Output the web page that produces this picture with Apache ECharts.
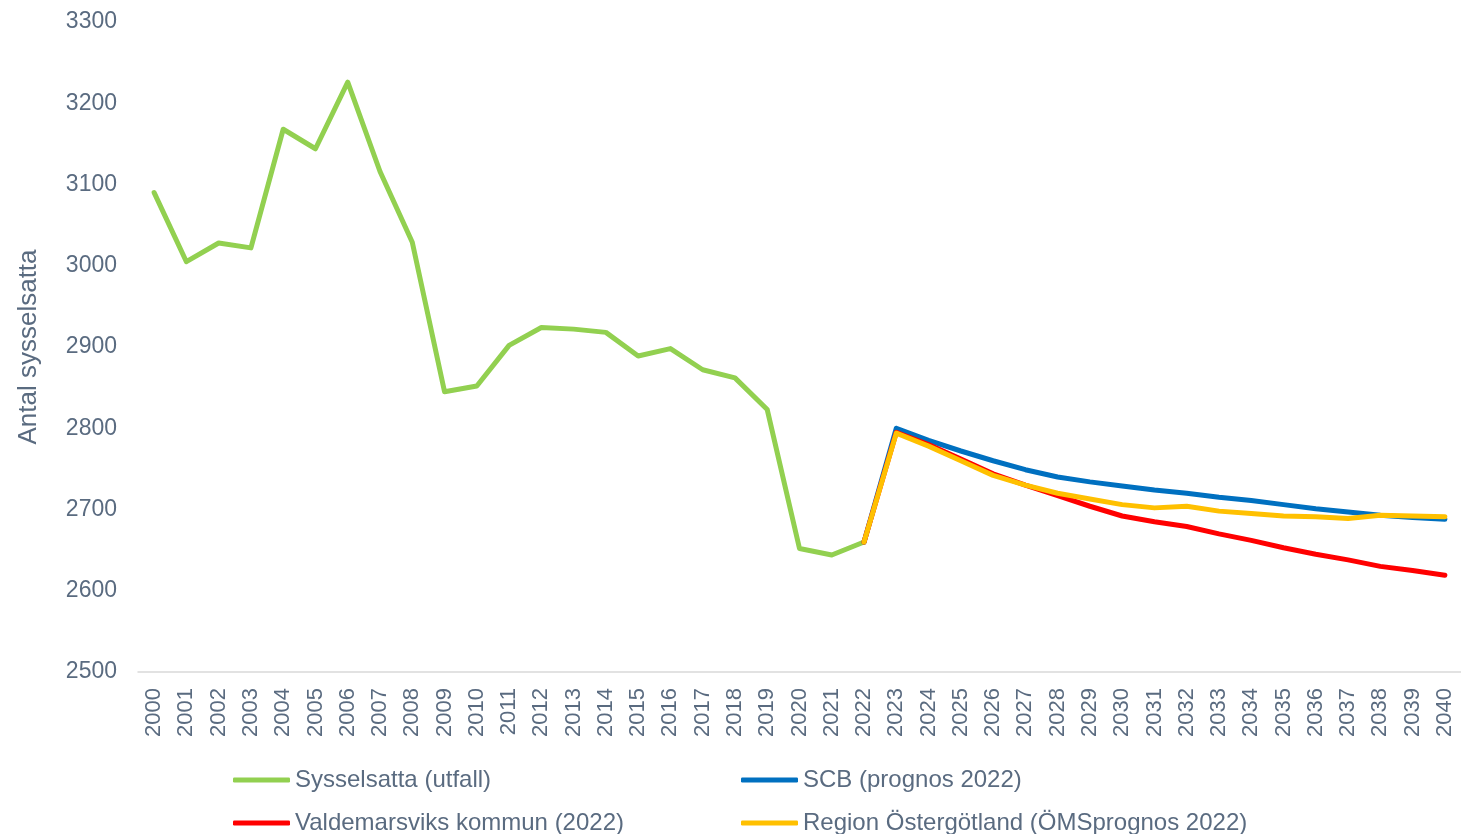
<!DOCTYPE html>
<html lang="sv">
  <head>
    <meta charset="utf-8" />
    <title>Antal sysselsatta</title>
    <style>
      html, body { margin: 0; padding: 0; background: #fff; }
      #chart1 { width: 1461px; height: 834px; }
    </style>
  </head>
  <body>
    <div id="chart1"></div>
    <script src="https://cdn.jsdelivr.net/npm/echarts@6/dist/echarts.min.js"></script>
    <script type="text/javascript">
      var years = [];
      for (var y = 2000; y <= 2040; y++) years.push(String(y));

      // utfall 2000-2022
      var utfall = [3090, 3005, 3028, 3022, 3168, 3144, 3226, 3116, 3029, 2845,
        2852, 2902, 2924, 2922, 2918, 2889, 2898, 2872, 2862, 2823, 2652, 2644, 2660];
      // prognoser 2022-2040
      var scb = [2660, 2800, 2785, 2772, 2760, 2749, 2740, 2734, 2729, 2724,
        2720, 2715, 2711, 2706, 2701, 2697, 2693, 2690, 2688];
      var valdemarsvik = [2660, 2795, 2780, 2762, 2744, 2730, 2717, 2704, 2692, 2685,
        2679, 2670, 2662, 2653, 2645, 2638, 2630, 2625, 2619];
      var region = [2660, 2794, 2778, 2760, 2742, 2730, 2720, 2713, 2706, 2702,
        2704, 2698, 2695, 2692, 2691, 2689, 2693, 2692, 2691];

      var yTicks = { min: 2500, max: 3300, interval: 100 };

      function fromYear(arr, startIdx) {
        var out = [];
        for (var i = 0; i < startIdx; i++) out.push(null);
        return out.concat(arr);
      }

      var textColor = "#5A6B80";
      var font = "'Liberation Sans', Arial, sans-serif";

      // en legend per post, så att de hamnar i två kolumner
      function legendItem(name, left, top) {
        return {
          left: left, top: top,
          itemWidth: 57, itemHeight: 5, icon: "roundRect",
          textStyle: { fontSize: 24, color: textColor, fontFamily: font },
          data: [name],
        };
      }

      var myChart = echarts.init(document.getElementById("chart1"));
      myChart.setOption({
        animation: false,
        textStyle: { fontFamily: font },
        grid: { left: 138, right: 0, top: 22, bottom: 162 },
        legend: [
          legendItem("Sysselsatta (utfall)", 228, 763),
          legendItem("SCB (prognos 2022)", 736, 763),
          legendItem("Valdemarsviks kommun (2022)", 228, 806),
          legendItem("Region Östergötland (ÖMSprognos 2022)", 736, 806),
        ],
        xAxis: {
          type: "category",
          data: years,
          boundaryGap: true,
          axisLine: { lineStyle: { color: "#D9D9D9", width: 1.5 } },
          axisTick: { show: false },
          axisLabel: {
            interval: 0, rotate: 90, margin: 16,
            fontSize: 22, color: textColor, fontFamily: font,
          },
        },
        yAxis: {
          type: "value",
          min: yTicks.min, max: yTicks.max, interval: yTicks.interval,
          name: "Antal sysselsatta",
          nameLocation: "middle",
          nameGap: 96,
          nameTextStyle: { fontSize: 26, color: textColor, fontFamily: font },
          axisLine: { show: false },
          axisTick: { show: false },
          splitLine: { show: false },
          axisLabel: {
            fontSize: 23, color: textColor, margin: 21, fontFamily: font,
            formatter: function (v) { return String(v); },
          },
        },
        series: [
          {
            name: "Sysselsatta (utfall)", type: "line", data: utfall,
            symbol: "none", color: "#92D050",
            lineStyle: { width: 5, cap: "round", join: "round" },
          },
          {
            name: "SCB (prognos 2022)", type: "line", data: fromYear(scb, 22),
            symbol: "none", color: "#0070C0",
            lineStyle: { width: 5, cap: "round", join: "round" },
          },
          {
            name: "Valdemarsviks kommun (2022)", type: "line", data: fromYear(valdemarsvik, 22),
            symbol: "none", color: "#FF0000",
            lineStyle: { width: 5, cap: "round", join: "round" },
          },
          {
            name: "Region Östergötland (ÖMSprognos 2022)", type: "line", data: fromYear(region, 22),
            symbol: "none", color: "#FFC000",
            lineStyle: { width: 5, cap: "round", join: "round" },
          },
        ],
      });
    </script>
  </body>
</html>
